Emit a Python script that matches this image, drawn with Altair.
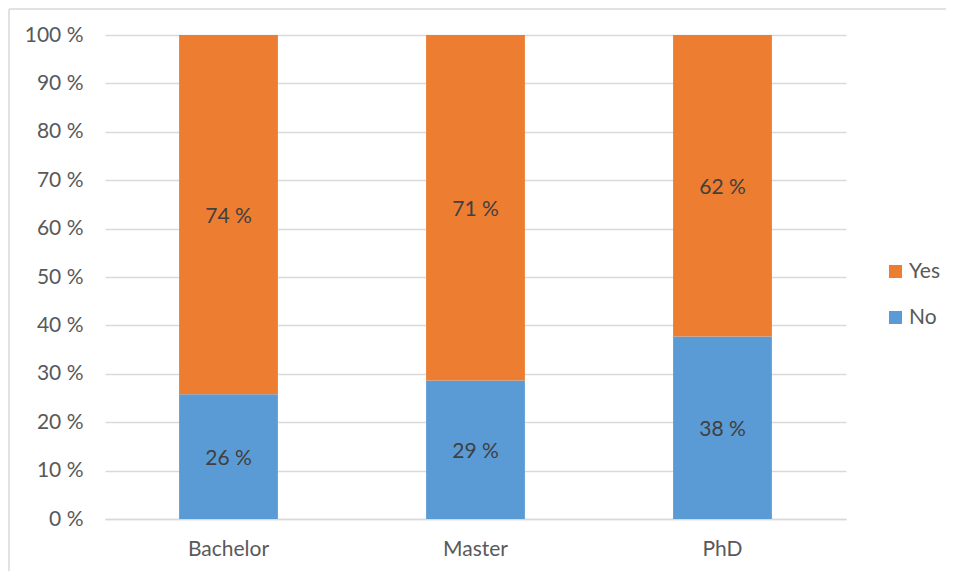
import altair as alt
import pandas as pd

categories = ["Bachelor", "Master", "PhD"]
no_pct = [25.8, 28.6, 37.7]
yes_pct = [74.2, 71.4, 62.3]
label_no = ["26 %", "29 %", "38 %"]
label_yes = ["74 %", "71 %", "62 %"]
y_ticks = list(range(0, 101, 10))

rows = []
for c, n, y, ln, ly in zip(categories, no_pct, yes_pct, label_no, label_yes):
    rows.append({"level": c, "answer": "No", "pct": n, "order": 0, "label": ln})
    rows.append({"level": c, "answer": "Yes", "pct": y, "order": 1, "label": ly})
df = pd.DataFrame(rows)

FONT = "Lato"
FS = 21

base = alt.Chart(df).transform_stack(
    stack="pct", groupby=["level"], as_=["p0", "p1"], sort=[alt.SortField("order")]
).transform_calculate(mid="(datum.p0 + datum.p1) / 2")

x_enc = alt.X(
    "level:N",
    sort=categories,
    scale=alt.Scale(paddingInner=0.6, paddingOuter=0.3),
    axis=alt.Axis(
        title=None, labelAngle=0, labelFontSize=FS, labelColor="#595959",
        labelPadding=19, ticks=False, domainColor="#D9D9D9", domainWidth=1.3,
        labelFont=FONT,
    ),
)

bars = base.mark_bar().encode(
    x=x_enc,
    y=alt.Y(
        "p0:Q",
        scale=alt.Scale(domain=[0, 100], nice=False),
        axis=alt.Axis(
            title=None, values=y_ticks, labelExpr="datum.value + ' %'",
            labelFontSize=FS, labelColor="#595959", labelPadding=22,
            ticks=False, domain=False, gridColor="#D9D9D9", gridWidth=1.3,
            labelFont=FONT,
        ),
    ),
    y2="p1:Q",
    color=alt.Color(
        "answer:N",
        scale=alt.Scale(domain=["Yes", "No"], range=["#ED7D31", "#5B9BD5"]),
        legend=alt.Legend(
            title=None, orient="none", legendX=780, legendY=226,
            symbolType="square", symbolSize=169, symbolStrokeWidth=0,
            labelFontSize=FS, labelColor="#595959", labelFont=FONT,
            rowPadding=24, labelOffset=3,
        ),
    ),
)

text = base.mark_text(fontSize=FS, color="#404040", font=FONT, dy=2).encode(
    x=alt.X("level:N", sort=categories),
    y=alt.Y("mid:Q"),
    text="label:N",
)

frame = alt.Data(values=[{}])
border_left = alt.Chart(frame).mark_rule(color="#D9D9D9", strokeWidth=1.5).encode(
    x=alt.value(-96), y=alt.value(-26), y2=alt.value(600)
)
border_top = alt.Chart(frame).mark_rule(color="#D9D9D9", strokeWidth=1.5).encode(
    x=alt.value(-96), x2=alt.value(900), y=alt.value(-26)
)

chart = alt.layer(bars, text, border_left, border_top).properties(
    width=741, height=484,
    autosize=alt.AutoSizeParams(type="none"),
    padding={"left": 97, "top": 27, "right": 100, "bottom": 52},
).configure_view(stroke=None)

chart.save("out.html", embed_options={"renderer": "svg", "actions": False})
